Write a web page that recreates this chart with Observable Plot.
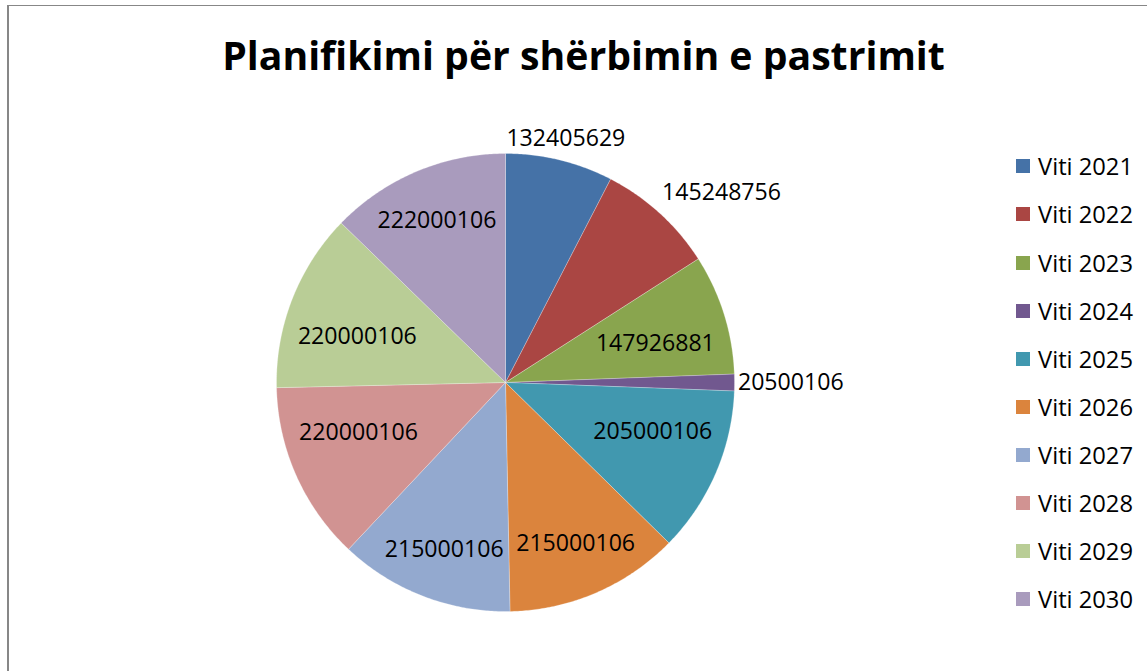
<!DOCTYPE html>
<html>
<head>
<meta charset="utf-8">
<script src="https://cdn.jsdelivr.net/npm/d3@7"></script>
<script src="https://cdn.jsdelivr.net/npm/@observablehq/plot@0.6"></script>
<style>
  html, body { margin: 0; padding: 0; background: #fff; }
  #chart { position: relative; width: 1147px; height: 671px; overflow: hidden; background: #fff; font-family: "Open Sans", sans-serif; color: #000; }
  #frame { position: absolute; left: 7px; top: 5px; width: 1200px; height: 700px; border-left: 2px solid #878787; border-top: 1px solid #878787; box-sizing: border-box; }
  #title { position: absolute; left: 0; width: 1167px; text-align: center; font-weight: bold; white-space: nowrap; }
  #plot { position: absolute; left: 0; top: 0; }
  .lg-row { position: absolute; height: 30px; display: flex; align-items: center; white-space: nowrap; }
  .lg-sw { width: 14px; height: 14px; margin-right: 8px; flex: none; }
</style>
</head>
<body>
<div id="chart">
  <div id="frame"></div>
  <div id="plot"></div>
  <div id="title"></div>
  <div id="legend"></div>
</div>
<script>
// ---- data ----
const title = "Planifikimi për shërbimin e pastrimit";
const categories = ["Viti 2021", "Viti 2022", "Viti 2023", "Viti 2024", "Viti 2025", "Viti 2026", "Viti 2027", "Viti 2028", "Viti 2029", "Viti 2030"];
const values = [132405629, 145248756, 147926881, 20500106, 205000106, 215000106, 215000106, 220000106, 220000106, 222000106];
const colors = ["#4572A7", "#AA4643", "#89A54E", "#71588F", "#4198AF", "#DB843D", "#93A9CF", "#D19392", "#B9CD96", "#A99BBD"];

// ---- layout ----
const FAMILY = '"Open Sans", sans-serif';
const W = 1147, H = 671;
const CX = 505, CY = 382, R = 229;

const ctx = document.createElement("canvas").getContext("2d");
function textW(t, font) { ctx.font = font; return ctx.measureText(t).width; }
function fitSize(t, weight, target) { return 100 * target / textW(t, `${weight} 100px ${FAMILY}`); }

const labelSize = fitSize("132405629", "normal", 119);
const legendSize = fitSize("Viti 2021", "normal", 95);
const titleSize = fitSize(title, "bold", 723);

// title
const tEl = document.getElementById("title");
tEl.textContent = title;
tEl.style.fontSize = titleSize + "px";
tEl.style.lineHeight = titleSize + "px";
tEl.style.top = (70 - 0.888 * titleSize) + "px";

// legend
const lg = document.getElementById("legend");
categories.forEach((c, i) => {
  const row = document.createElement("div");
  row.className = "lg-row";
  row.style.left = "1016px";
  row.style.top = (166.3 + i * 48.1 - 15) + "px";
  row.style.fontSize = legendSize + "px";
  const sw = document.createElement("div");
  sw.className = "lg-sw";
  sw.style.background = colors[i];
  const tx = document.createElement("span");
  tx.textContent = c;
  row.appendChild(sw); row.appendChild(tx);
  lg.appendChild(row);
});

// ---- pie geometry ----
const arcs = d3.pie().sort(null).value(d => d)(values);
const slicePts = [];
arcs.forEach((a, i) => {
  const name = categories[i];
  slicePts.push({name, x: 0, y: 0});
  const n = Math.max(2, Math.ceil((a.endAngle - a.startAngle) / (Math.PI / 360)));
  for (let k = 0; k <= n; k++) {
    const t = a.startAngle + (a.endAngle - a.startAngle) * k / n;
    slicePts.push({name, x: Math.sin(t), y: Math.cos(t)});
  }
  slicePts.push({name, x: 0, y: 0});
});

// ---- data label placement (Excel "best fit" imitation) ----
const fmt = v => String(v);
const HH = 11;
function ramp(v, lo, hi) { const s = Math.sign(v), a = Math.abs(v); return s * Math.max(0, Math.min(1, (a - lo) / (hi - lo))); }
function angOf(x, y) { let a = Math.atan2(x, y); if (a < 0) a += 2 * Math.PI; return a; }
function fits(cx, cy, hw, a0, a1) {
  for (const [sx, sy] of [[-1, -1], [-1, 1], [1, -1], [1, 1]]) {
    const x = cx + sx * hw, y = cy + sy * HH;
    if (Math.hypot(x, y) > R * 0.985) return false;
    const a = angOf(x, y);
    if (a < a0 || a > a1) return false;
  }
  return true;
}
const labelData = arcs.map((a, i) => {
  const text = fmt(values[i]);
  const hw = textW(text, `normal ${labelSize}px ${FAMILY}`) / 2;
  const th = (a.startAngle + a.endAngle) / 2;
  const s = Math.sin(th), c = Math.cos(th);
  const ox = hw * ramp(s, 0.35, 0.85), oy = HH * ramp(c, 0, 0.3);
  const outerX = ox + Math.sign(s || 1) * hw, outerY = oy + Math.sign(c || 1) * HH;
  // inside: outer corner of the label box at 0.94 R
  let lo = 0, hi = R;
  for (let k = 0; k < 60; k++) {
    const m = (lo + hi) / 2;
    if (Math.hypot(m * s + outerX, m * c + outerY) > 0.94 * R) hi = m; else lo = m;
  }
  let cx = lo * s + ox, cy = lo * c + oy;
  if (!fits(cx, cy, hw, a.startAngle, a.endAngle)) {
    // outside: inner side of the box just beyond the rim
    const d = 1.015 * R;
    cx = d * s + hw * ramp(s, 0.2, 0.6);
    cy = d * c + 18 * ramp(c, 0, 0.3);
  }
  return {text, x: cx / R, y: cy / R};
});

const plot = Plot.plot({
  width: W, height: H,
  margin: 0,
  x: {domain: [-1, 1], range: [CX - R, CX + R], axis: null},
  y: {domain: [-1, 1], range: [CY + R, CY - R], axis: null},
  color: {domain: categories, range: colors},
  style: {background: "transparent", overflow: "visible"},
  marks: [
    Plot.line(slicePts, {x: "x", y: "y", z: "name", fill: "name", stroke: "#ffffff", strokeWidth: 0.5, strokeOpacity: 0.5, curve: "linear"}),
    Plot.text(labelData, {x: "x", y: "y", text: "text", fontSize: labelSize, fontFamily: FAMILY, fill: "#000", textAnchor: "middle", lineAnchor: "middle"})
  ]
});
document.getElementById("plot").appendChild(plot);
</script>
</body>
</html>
